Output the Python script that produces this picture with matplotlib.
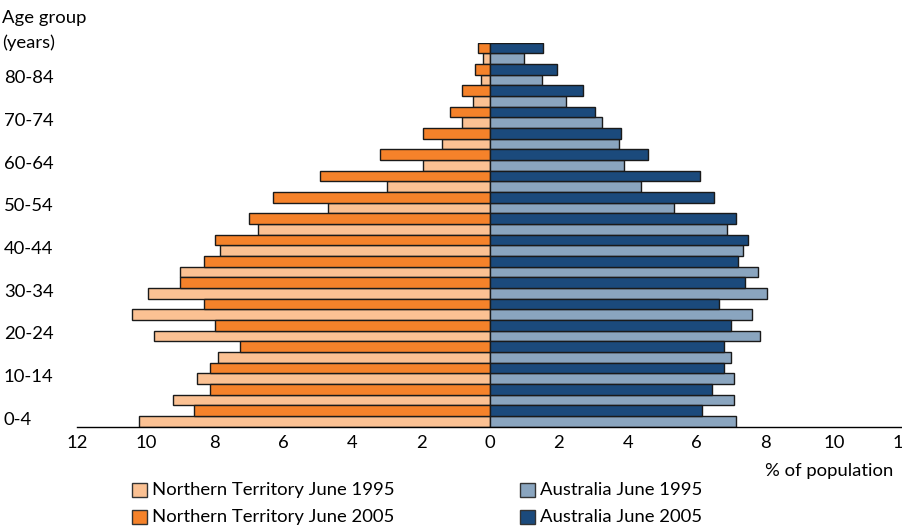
import matplotlib
matplotlib.use("Agg")
import matplotlib.pyplot as plt
from matplotlib.patches import Rectangle
import numpy as np

plt.rcParams["font.family"] = ["Lato", "DejaVu Sans"]

# age groups, bottom to top
ages = ["0-4", "5-9", "10-14", "15-19", "20-24", "25-29", "30-34", "35-39",
        "40-44", "45-49", "50-54", "55-59", "60-64", "65-69", "70-74",
        "75-79", "80-84", "85+"]

# % of population
nt_1995 = [10.2, 9.2, 8.5, 7.9, 9.75, 10.4, 9.95, 9.0, 7.85, 6.75, 4.7, 3.0,
           1.95, 1.4, 0.8, 0.5, 0.25, 0.2]
nt_2005 = [8.6, 8.15, 8.15, 7.25, 8.0, 8.3, 9.0, 8.3, 8.0, 7.0, 6.3, 4.95,
           3.2, 1.95, 1.15, 0.8, 0.45, 0.35]
au_1995 = [7.15, 7.1, 7.1, 7.0, 7.85, 7.6, 8.05, 7.8, 7.35, 6.9, 5.35, 4.4,
           3.9, 3.75, 3.25, 2.2, 1.5, 1.0]
au_2005 = [6.15, 6.45, 6.8, 6.8, 7.0, 6.65, 7.4, 7.2, 7.5, 7.15, 6.5, 6.1,
           4.6, 3.8, 3.05, 2.7, 1.95, 1.55]

labels = ["Northern Territory June 1995", "Northern Territory June 2005",
          "Australia June 1995", "Australia June 2005"]
colors = ["#fbc193", "#f5822a", "#8aa5bf", "#1b4a7c"]
FS = 13.3

fig = plt.figure(figsize=(9.02, 5.28), dpi=100)
W, H = 902, 528
ax = fig.add_axes([77 / W, (H - 426.7) / H, (903 - 77) / W, 384 / H])

g = np.arange(len(ages))
y95 = 2 * g
y05 = 2 * g + 1
kw = dict(height=1.0, edgecolor="#1a1a1a", linewidth=1.0)
ax.barh(y95, -np.array(nt_1995), color=colors[0], **kw)
ax.barh(y05, -np.array(nt_2005), color=colors[1], **kw)
ax.barh(y95, au_1995, color=colors[2], **kw)
ax.barh(y05, au_2005, color=colors[3], **kw)

ax.set_xlim(-12, 12)
ax.set_ylim(-0.5, 2 * len(ages) - 0.5)
ax.set_xticks(np.arange(-12, 13, 2))
ax.set_xticklabels([str(abs(v)) for v in range(-12, 13, 2)])
ax.tick_params(axis="x", length=0, pad=6, labelsize=FS)
ax.set_yticks([])
for s in ["top", "right", "left"]:
    ax.spines[s].set_visible(False)
ax.spines["bottom"].set_linewidth(1.0)

# age labels on every other group, left aligned at figure edge
for i in range(0, len(ages), 2):
    ypix = ax.transData.transform((0, y95[i] + 0.15))[1]
    fig.text(4 / W, ypix / H, ages[i], fontsize=FS, ha="left", va="center")

fig.text(2 / W, (H - 18) / H, "Age group", fontsize=FS, va="center")
fig.text(2 / W, (H - 43) / H, "(years)", fontsize=FS, va="center")
fig.text(765 / W, (H - 471) / H, "% of population", fontsize=FS, va="center")

# legend
pos = [(132, 490), (132, 517), (520, 490), (520, 517)]
for (px, py), lab, c in zip(pos, labels, colors):
    fig.patches.append(Rectangle((px / W, (H - py - 7) / H), 15 / W, 14 / H,
                                 transform=fig.transFigure, facecolor=c,
                                 edgecolor="#333333", linewidth=1.0))
    fig.text((px + 20) / W, (H - py) / H, lab, fontsize=FS, va="center")

fig.savefig("out.png", dpi=100)
